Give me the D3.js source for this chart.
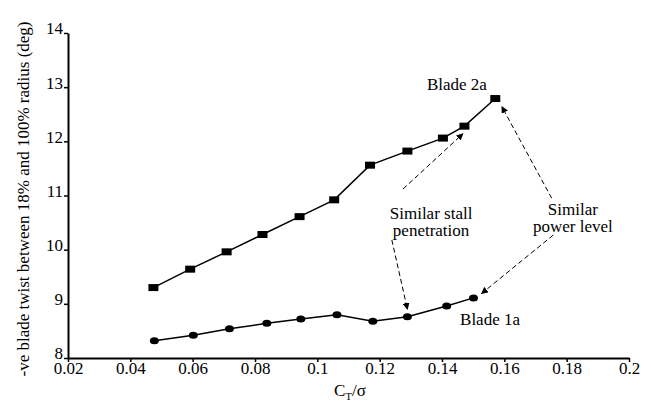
<!DOCTYPE html>
<html>
<head>
<meta charset="utf-8">
<script src="https://cdn.jsdelivr.net/npm/d3@7"></script>
<style>
  body { margin: 0; background: #fff; }
</style>
</head>
<body>
<svg id="chart"></svg>
<script>
// Blade 2a (square markers) and Blade 1a (round markers)
const blade2aX = [0.0474, 0.0592, 0.0709, 0.0824, 0.0943, 0.1054, 0.1169, 0.1289, 0.1403, 0.1472, 0.1571];
const blade2aY = [9.30, 9.64, 9.96, 10.28, 10.61, 10.92, 11.56, 11.82, 12.06, 12.28, 12.79];
const blade1aX = [0.0477, 0.0602, 0.0718, 0.0838, 0.0947, 0.1063, 0.1178, 0.1289, 0.1415, 0.1501];
const blade1aY = [8.32, 8.42, 8.54, 8.64, 8.72, 8.80, 8.68, 8.76, 8.96, 9.11];

const xTicks = [0.02, 0.04, 0.06, 0.08, 0.1, 0.12, 0.14, 0.16, 0.18, 0.2];
const yTicks = [8, 9, 10, 11, 12, 13, 14];

// dashed annotation arrows, in data units: [x1, y1, x2, y2]
const stallArrows = [[0.1275, 11.12, 0.1467, 12.14], [0.1239, 10.18, 0.1289, 8.90]];
const powerArrows = [[0.1752, 10.95, 0.1592, 12.64], [0.1757, 10.27, 0.1527, 9.19]];

const FONT = "'Liberation Serif', 'Times New Roman', serif";
const width = 651, height = 411;
const margin = { top: 33, right: 22, bottom: 53, left: 68 };

const svg = d3.select("#chart")
    .attr("width", width)
    .attr("height", height)
    .style("font-family", FONT);

const xScale = d3.scaleLinear()
    .domain([0.02, 0.2])
    .range([margin.left, width - margin.right]);

const yScale = d3.scaleLinear()
    .domain([8, 14])
    .range([height - margin.bottom, margin.top]);

// axes
const xAxis = svg.append("g")
    .attr("transform", "translate(0," + (height - margin.bottom) + ")")
    .call(d3.axisBottom(xScale).tickValues(xTicks).tickSize(4).tickSizeOuter(0).tickPadding(0)
        .tickFormat(d => String(+d.toFixed(2))));

const yAxis = svg.append("g")
    .attr("transform", "translate(" + margin.left + ",0)")
    .call(d3.axisLeft(yScale).tickValues(yTicks).tickSize(4).tickSizeOuter(0).tickPadding(1)
        .tickFormat(d3.format("d")));

[xAxis, yAxis].forEach(ax => {
    ax.attr("font-family", FONT).attr("font-size", 17);
    ax.select(".domain").attr("stroke", "#000").attr("stroke-width", 2);
    ax.selectAll(".tick line").attr("stroke", "#000").attr("stroke-width", 1.5);
    ax.selectAll("text").attr("fill", "#000");
});
yAxis.selectAll("text").attr("dy", "0.05em");

// axis titles
svg.append("text")
    .attr("transform", "translate(29," + 199 + ") rotate(-90)")
    .attr("text-anchor", "middle")
    .attr("font-family", FONT)
    .attr("font-size", 17)
    .text("-ve blade twist between 18% and 100% radius (deg)");

const xTitle = svg.append("text")
    .attr("x", 350)
    .attr("y", 396)
    .attr("text-anchor", "middle")
    .attr("font-family", FONT)
    .attr("font-size", 17);
xTitle.append("tspan").text("C");
xTitle.append("tspan").attr("dy", 4).attr("font-size", 11).text("T");
xTitle.append("tspan").attr("dy", -4).text("/σ");

// lines
const line = d3.line()
    .x(d => xScale(d[0]))
    .y(d => yScale(d[1]));

const blade2a = blade2aX.map((x, i) => [x, blade2aY[i]]);
const blade1a = blade1aX.map((x, i) => [x, blade1aY[i]]);

svg.append("path")
    .datum(blade2a)
    .attr("d", line)
    .attr("fill", "none")
    .attr("stroke", "#000")
    .attr("stroke-width", 1.5);

svg.append("path")
    .datum(blade1a)
    .attr("d", line)
    .attr("fill", "none")
    .attr("stroke", "#000")
    .attr("stroke-width", 1.5);

svg.selectAll(".sq")
    .data(blade2a)
    .enter().append("rect")
    .attr("class", "sq")
    .attr("x", d => xScale(d[0]) - 5)
    .attr("y", d => yScale(d[1]) - 3.5)
    .attr("width", 10)
    .attr("height", 7)
    .attr("fill", "#000");

svg.selectAll(".dot")
    .data(blade1a)
    .enter().append("ellipse")
    .attr("class", "dot")
    .attr("cx", d => xScale(d[0]))
    .attr("cy", d => yScale(d[1]))
    .attr("rx", 4.5)
    .attr("ry", 3.5)
    .attr("fill", "#000");

// arrowhead
svg.append("defs").append("marker")
    .attr("id", "arrow")
    .attr("viewBox", "0 0 10 10")
    .attr("refX", 9)
    .attr("refY", 5)
    .attr("markerWidth", 7)
    .attr("markerHeight", 7)
    .attr("markerUnits", "userSpaceOnUse")
    .attr("orient", "auto")
    .append("path")
    .attr("d", "M0,0 L10,5 L0,10 z")
    .attr("fill", "#000");

svg.selectAll(".arrow")
    .data(stallArrows.concat(powerArrows))
    .enter().append("line")
    .attr("class", "arrow")
    .attr("x1", d => xScale(d[0]))
    .attr("y1", d => yScale(d[1]))
    .attr("x2", d => xScale(d[2]))
    .attr("y2", d => yScale(d[3]))
    .attr("stroke", "#000")
    .attr("stroke-width", 1)
    .attr("stroke-dasharray", "5,3")
    .attr("marker-end", "url(#arrow)");

// annotations
function label(txt, x, y, anchor) {
    svg.append("text")
        .attr("x", xScale(x))
        .attr("y", yScale(y))
        .attr("text-anchor", anchor)
        .attr("font-family", FONT)
        .attr("font-size", 17)
        .text(txt);
}
label("Blade 2a", 0.1448, 12.95, "middle");
label("Blade 1a", 0.1458, 8.61, "start");
label("Similar stall", 0.1365, 10.57, "middle");
label("penetration", 0.1365, 10.26, "middle");
label("Similar", 0.182, 10.64, "middle");
label("power level", 0.182, 10.32, "middle");
</script>
</body>
</html>
